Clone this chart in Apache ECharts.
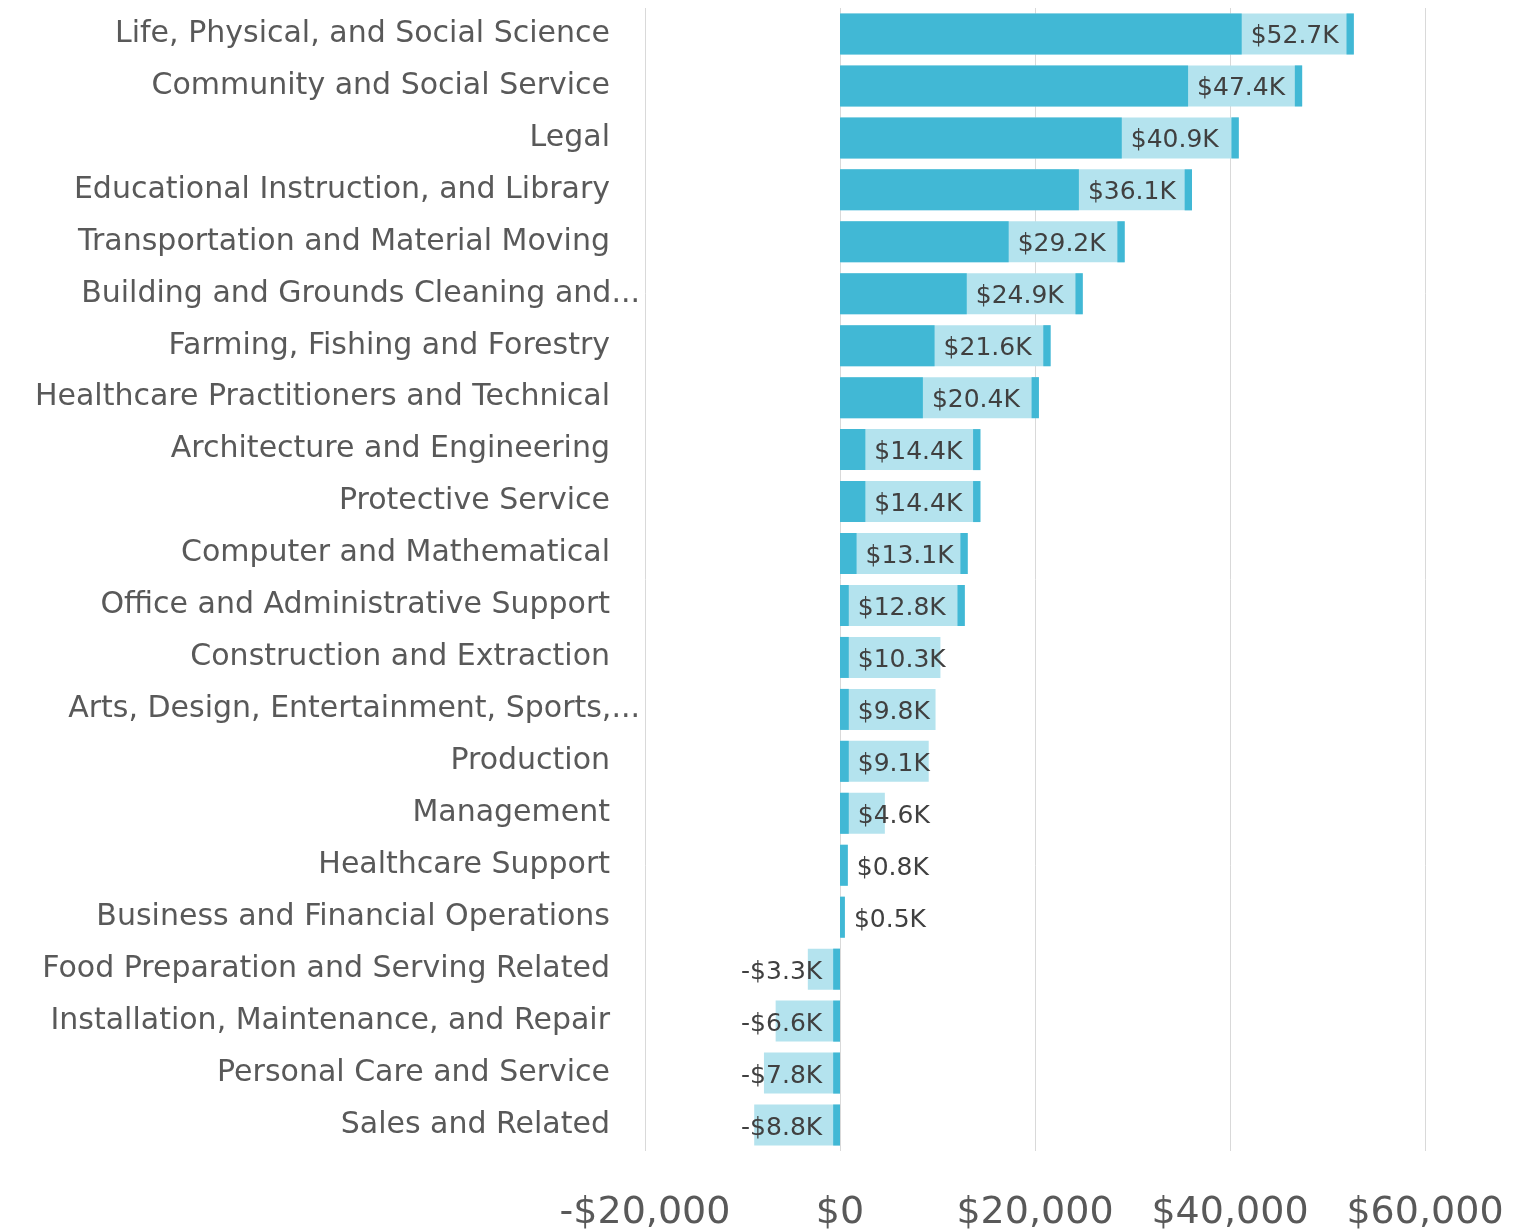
<!DOCTYPE html>
<html>
<head>
<meta charset="utf-8">
<script src="https://cdn.jsdelivr.net/npm/echarts@6/dist/echarts.min.js"></script>
<style>
  html, body { margin: 0; padding: 0; background: #fff; }
  #chart { width: 1519px; height: 1232px; }
</style>
</head>
<body>
<div id="chart"></div>
<script>
const categories = [
  'Life, Physical, and Social Science',
  'Community and Social Service',
  'Legal',
  'Educational Instruction, and Library',
  'Transportation and Material Moving',
  'Building and Grounds Cleaning and...',
  'Farming, Fishing and Forestry',
  'Healthcare Practitioners and Technical',
  'Architecture and Engineering',
  'Protective Service',
  'Computer and Mathematical',
  'Office and Administrative Support',
  'Construction and Extraction',
  'Arts, Design, Entertainment, Sports,...',
  'Production',
  'Management',
  'Healthcare Support',
  'Business and Financial Operations',
  'Food Preparation and Serving Related',
  'Installation, Maintenance, and Repair',
  'Personal Care and Service',
  'Sales and Related'
]

// total difference (light bar + label)
const values = [52700, 47400, 40900, 36100, 29200, 24900, 21600, 20400, 14400, 14400,
  13100, 12800, 10300, 9800, 9100, 4600, 800, 500, -3300, -6600, -7800, -8800]

// dark inner bar
const baseValues = [41200, 35700, 28900, 24500, 17300, 13000, 9700, 8500, 2600, 2600,
  1700, 900, 900, 900, 900, 900, 800, 500, -700, -700, -700, -700]

// dark end cap on the light bar (only the longer bars have one)
const capWidth = 750
const hasCap = values.map(v => v >= 12000)

const xTicks = [-20000, 0, 20000, 40000, 60000]

const DARK = '#41b8d5'
const LIGHT = '#b4e3ee'
const FONT = 'DejaVu Sans'

const fmtK = v => (v < 0 ? '-' : '') + '$' + (Math.abs(v) / 1000).toFixed(1) + 'K'
const fmtAxis = v => (v < 0 ? '-' : '') + '$' + Math.abs(v).toLocaleString('en-US')

const chart = echarts.init(document.getElementById('chart'))

chart.setOption({
  animation: false,
  grid: { left: 645, right: 94, top: 8, bottom: 80 },
  xAxis: {
    type: 'value',
    min: xTicks[0],
    max: xTicks[xTicks.length - 1],
    interval: xTicks[1] - xTicks[0],
    axisLine: { show: false },
    axisTick: { show: false },
    splitLine: { show: true, lineStyle: { color: '#d9d9d9', width: 1 } },
    axisLabel: {
      formatter: fmtAxis,
      color: '#595959',
      fontFamily: FONT,
      fontSize: 38,
      margin: 43
    }
  },
  yAxis: {
    type: 'category',
    inverse: true,
    // truncated names let their dots run past the label edge
    data: categories.map(name =>
      name.endsWith('...') ? { value: name, textStyle: { padding: [5, -30, 0, 0] } } : name
    ),
    axisLine: { show: false },
    axisTick: { show: false },
    axisLabel: {
      color: '#595959',
      fontFamily: FONT,
      fontSize: 30,
      margin: 35,
      padding: [5, 0, 0, 0]
    }
  },
  series: [
    {
      name: 'total',
      type: 'bar',
      barWidth: 41,
      barGap: '-100%',
      itemStyle: { color: LIGHT },
      data: values
    },
    {
      name: 'base',
      type: 'bar',
      barWidth: 41,
      barGap: '-100%',
      itemStyle: { color: DARK },
      data: baseValues.map((b, i) => ({
        value: b,
        label: {
          show: true,
          position: values[i] < 0 ? 'left' : 'right',
          distance: values[i] < 0 ? 11 : 9,
          offset: [0, 3],
          formatter: () => fmtK(values[i]),
          color: '#404040',
          fontFamily: FONT,
          fontSize: 25
        }
      }))
    },
    {
      name: 'spacer',
      type: 'bar',
      stack: 'cap',
      barWidth: 41,
      barGap: '-100%',
      itemStyle: { color: 'rgba(0,0,0,0)' },
      data: values.map((v, i) => (hasCap[i] ? v - capWidth : '-'))
    },
    {
      name: 'cap',
      type: 'bar',
      stack: 'cap',
      barWidth: 41,
      barGap: '-100%',
      itemStyle: { color: DARK },
      data: values.map((v, i) => (hasCap[i] ? capWidth : '-'))
    }
  ]
})

window.addEventListener('resize', () => chart.resize())
</script>
</body>
</html>
